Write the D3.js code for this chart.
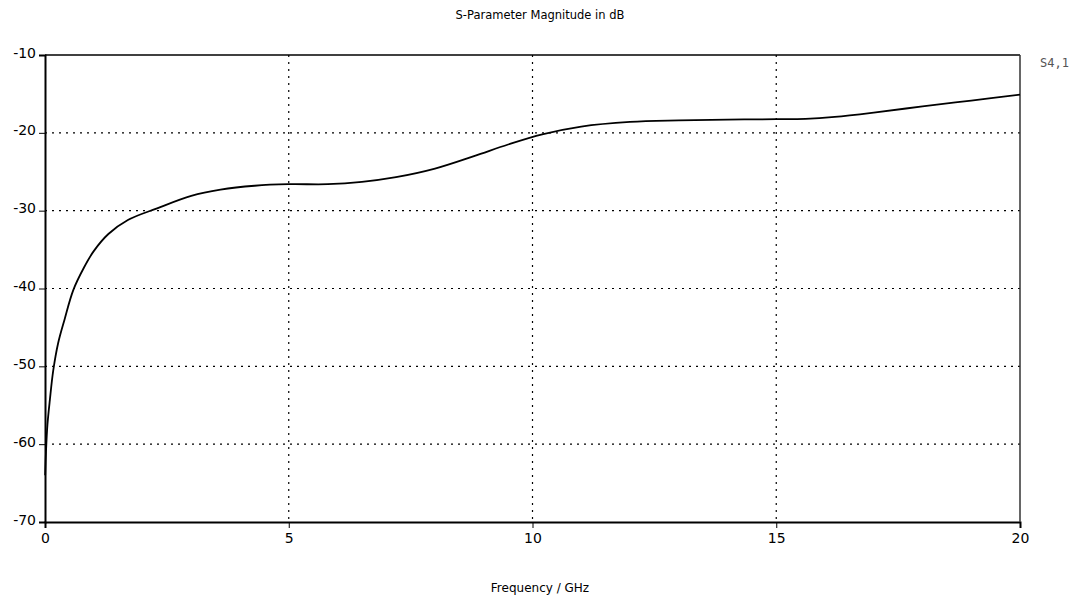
<!DOCTYPE html>
<html>
<head>
<meta charset="utf-8">
<script src="https://cdn.jsdelivr.net/npm/d3@7"></script>
<style>
  html, body { margin: 0; padding: 0; background: #fff; }
  svg { display: block; }
</style>
</head>
<body>
<svg id="chart" width="1085" height="604"></svg>
<script>
// S4,1 transmission magnitude (dB) versus frequency (GHz)
const freqGHz = [0.003, 0.02, 0.05, 0.1, 0.17, 0.27, 0.4, 0.58, 0.8, 1.0, 1.3, 1.7, 2.3, 3.0, 3.6, 4.3, 5.0, 5.8, 6.5, 7.2, 8.0, 8.8, 9.5, 10.2, 11.0, 12.0, 13.0, 14.0, 15.0, 15.6, 16.2, 17.0, 18.0, 19.0, 20.0];
const s41dB   = [-64, -61, -57.5, -54.3, -50.5, -47, -44, -40.2, -37.3, -35.2, -33.0, -31.2, -29.7, -28.1, -27.3, -26.8, -26.6, -26.6, -26.3, -25.7, -24.6, -23.0, -21.5, -20.2, -19.2, -18.6, -18.4, -18.3, -18.25, -18.2, -17.95, -17.4, -16.6, -15.85, -15.1];

const xTicks = [0, 5, 10, 15, 20];
const yTicks = [-70, -60, -50, -40, -30, -20, -10];

const titleText = "S-Parameter Magnitude in dB";
const xLabelText = "Frequency / GHz";
const seriesName = "S4,1";

const svg = d3.select("#chart");
const plotLeft = 45, plotRight = 1020, plotTop = 55, plotBottom = 522;

const x = d3.scaleLinear().domain([0, 20]).range([plotLeft, plotRight]);
const y = d3.scaleLinear().domain([-70, -10]).range([plotBottom, plotTop]);

const font = "Tahoma, 'DejaVu Sans', sans-serif";

// grid
const grid = svg.append("g")
  .attr("stroke", "#000")
  .attr("stroke-width", 1.2)
  .attr("stroke-dasharray", "2,5");
grid.selectAll("line.h")
  .data(yTicks.filter(v => v > -70 && v < -10))
  .join("line")
  .attr("class", "h")
  .attr("x1", plotLeft).attr("x2", plotRight)
  .attr("y1", d => y(d)).attr("y2", d => y(d));
grid.selectAll("line.v")
  .data(xTicks.filter(v => v > 0 && v < 20))
  .join("line")
  .attr("class", "v")
  .attr("y1", plotTop).attr("y2", plotBottom)
  .attr("x1", d => x(d)).attr("x2", d => x(d));

// y axis (plain hyphen for negative labels)
const yAxis = d3.axisLeft(y).tickValues(yTicks).tickSize(6).tickPadding(3)
  .tickFormat(d => String(d));
const gy = svg.append("g").attr("transform", `translate(${plotLeft},0)`).call(yAxis);
gy.select(".domain").attr("stroke", "#000").attr("stroke-width", 2);
gy.selectAll(".tick line").attr("stroke", "#000");
gy.selectAll(".tick text")
  .attr("font-family", font).attr("font-size", 14).attr("fill", "#000")
  .attr("dy", "0.15em");

// x axis
const xAxis = d3.axisBottom(x).tickValues(xTicks).tickSize(6).tickPadding(5)
  .tickFormat(d => String(d));
const gx = svg.append("g").attr("transform", `translate(0,${plotBottom})`).call(xAxis);
gx.select(".domain").attr("stroke", "#000").attr("stroke-width", 2);
gx.selectAll(".tick line").attr("stroke", "#000");
gx.selectAll(".tick text")
  .attr("font-family", font).attr("font-size", 14).attr("fill", "#000");

// frame: top and right edges
svg.append("line").attr("x1", plotLeft).attr("x2", plotRight).attr("y1", plotTop).attr("y2", plotTop)
  .attr("stroke", "#000").attr("stroke-width", 1.5);
svg.append("line").attr("x1", plotRight).attr("x2", plotRight).attr("y1", plotTop).attr("y2", plotBottom)
  .attr("stroke", "#333").attr("stroke-width", 1.5);

// curve
const line = d3.line()
  .x((d, i) => x(freqGHz[i]))
  .y(d => y(d))
  .curve(d3.curveCatmullRom.alpha(0.5));
svg.append("path")
  .datum(s41dB)
  .attr("fill", "none")
  .attr("stroke", "#000")
  .attr("stroke-width", 1.8)
  .attr("d", line);

// texts
svg.append("text").attr("x", 540).attr("y", 19).attr("text-anchor", "middle")
  .attr("font-family", font).attr("font-size", 11.5).attr("fill", "#000").text(titleText);
svg.append("text").attr("x", 540).attr("y", 592).attr("text-anchor", "middle")
  .attr("font-family", font).attr("font-size", 12).attr("fill", "#000").text(xLabelText);
svg.append("text").attr("x", 1040).attr("y", 67)
  .attr("font-family", "'DejaVu Sans Mono', monospace").attr("font-size", 12).attr("fill", "#555").text(seriesName);
</script>
</body>
</html>
